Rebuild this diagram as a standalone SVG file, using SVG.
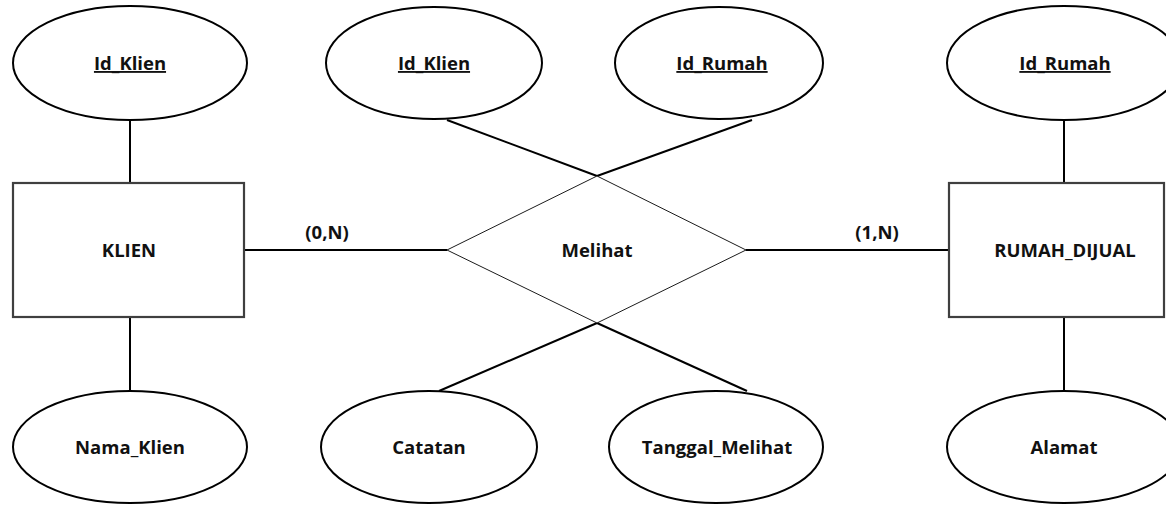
<svg xmlns="http://www.w3.org/2000/svg" width="1166" height="505" viewBox="0 0 1166 505">
<style>
  .attr { fill: #ffffff; stroke: #000000; stroke-width: 2; }
  .ent { fill: #ffffff; stroke: #3f3f3f; stroke-width: 2.2; }
  .rel { fill: #ffffff; stroke: #000000; stroke-width: 0.9; }
  .conn { stroke: #000000; stroke-width: 2; fill: none; }
  text { font-family: "Open Sans", "Noto Sans", "Liberation Sans", sans-serif; font-weight: bold; font-size: 18.5px; fill: #111111; text-anchor: middle; }
  .key { text-decoration: underline; }
</style>
<rect x="0" y="0" width="1166" height="505" fill="#ffffff"/>
<g id="connectors">
  <line class="conn" x1="130" y1="120" x2="130" y2="183"/>
  <line class="conn" x1="130" y1="317" x2="130" y2="391"/>
  <line class="conn" x1="1064" y1="120" x2="1064" y2="183"/>
  <line class="conn" x1="1064" y1="317" x2="1064" y2="391"/>
  <line class="conn" x1="244" y1="250" x2="447" y2="250"/>
  <line class="conn" x1="746" y1="250" x2="949" y2="250"/>
  <line class="conn" x1="447" y1="120" x2="597" y2="176"/>
  <line class="conn" x1="752" y1="120" x2="597" y2="176"/>
  <line class="conn" x1="597" y1="323" x2="439" y2="391"/>
  <line class="conn" x1="597" y1="323" x2="747" y2="391"/>
  <text x="327" y="239">(0,N)</text>
  <text x="877" y="239">(1,N)</text>
</g>
<g id="klien">
  <rect class="ent" x="13" y="183" width="231" height="134"/>
  <text x="129" y="257">KLIEN</text>
</g>
<g id="rumah_dijual">
  <rect class="ent" x="949" y="183" width="215" height="134"/>
  <text x="1065" y="257">RUMAH_DIJUAL</text>
</g>
<g id="melihat">
  <polygon class="rel" points="447,250 597,176 746,250 597,323"/>
  <text x="597" y="257">Melihat</text>
</g>
<g id="attr_id_klien_1">
  <ellipse class="attr" cx="130" cy="63" rx="117" ry="57"/>
  <text class="key" x="130" y="70">Id_Klien</text>
</g>
<g id="attr_id_klien_2">
  <ellipse class="attr" cx="434" cy="63" rx="108" ry="56"/>
  <text class="key" x="434" y="70">Id_Klien</text>
</g>
<g id="attr_id_rumah_1">
  <ellipse class="attr" cx="719" cy="63" rx="104" ry="56"/>
  <text class="key" x="722" y="70">Id_Rumah</text>
</g>
<g id="attr_id_rumah_2">
  <ellipse class="attr" cx="1064" cy="63" rx="117" ry="57"/>
  <text class="key" x="1065" y="70">Id_Rumah</text>
</g>
<g id="attr_nama_klien">
  <ellipse class="attr" cx="130" cy="447" rx="117" ry="56"/>
  <text x="130" y="454">Nama_Klien</text>
</g>
<g id="attr_catatan">
  <ellipse class="attr" cx="429" cy="447" rx="108" ry="56"/>
  <text x="429" y="454">Catatan</text>
</g>
<g id="attr_tanggal_melihat">
  <ellipse class="attr" cx="716" cy="447" rx="107" ry="56"/>
  <text x="717" y="454">Tanggal_Melihat</text>
</g>
<g id="attr_alamat">
  <ellipse class="attr" cx="1064" cy="447" rx="117" ry="56"/>
  <text x="1064" y="454">Alamat</text>
</g>
</svg>
